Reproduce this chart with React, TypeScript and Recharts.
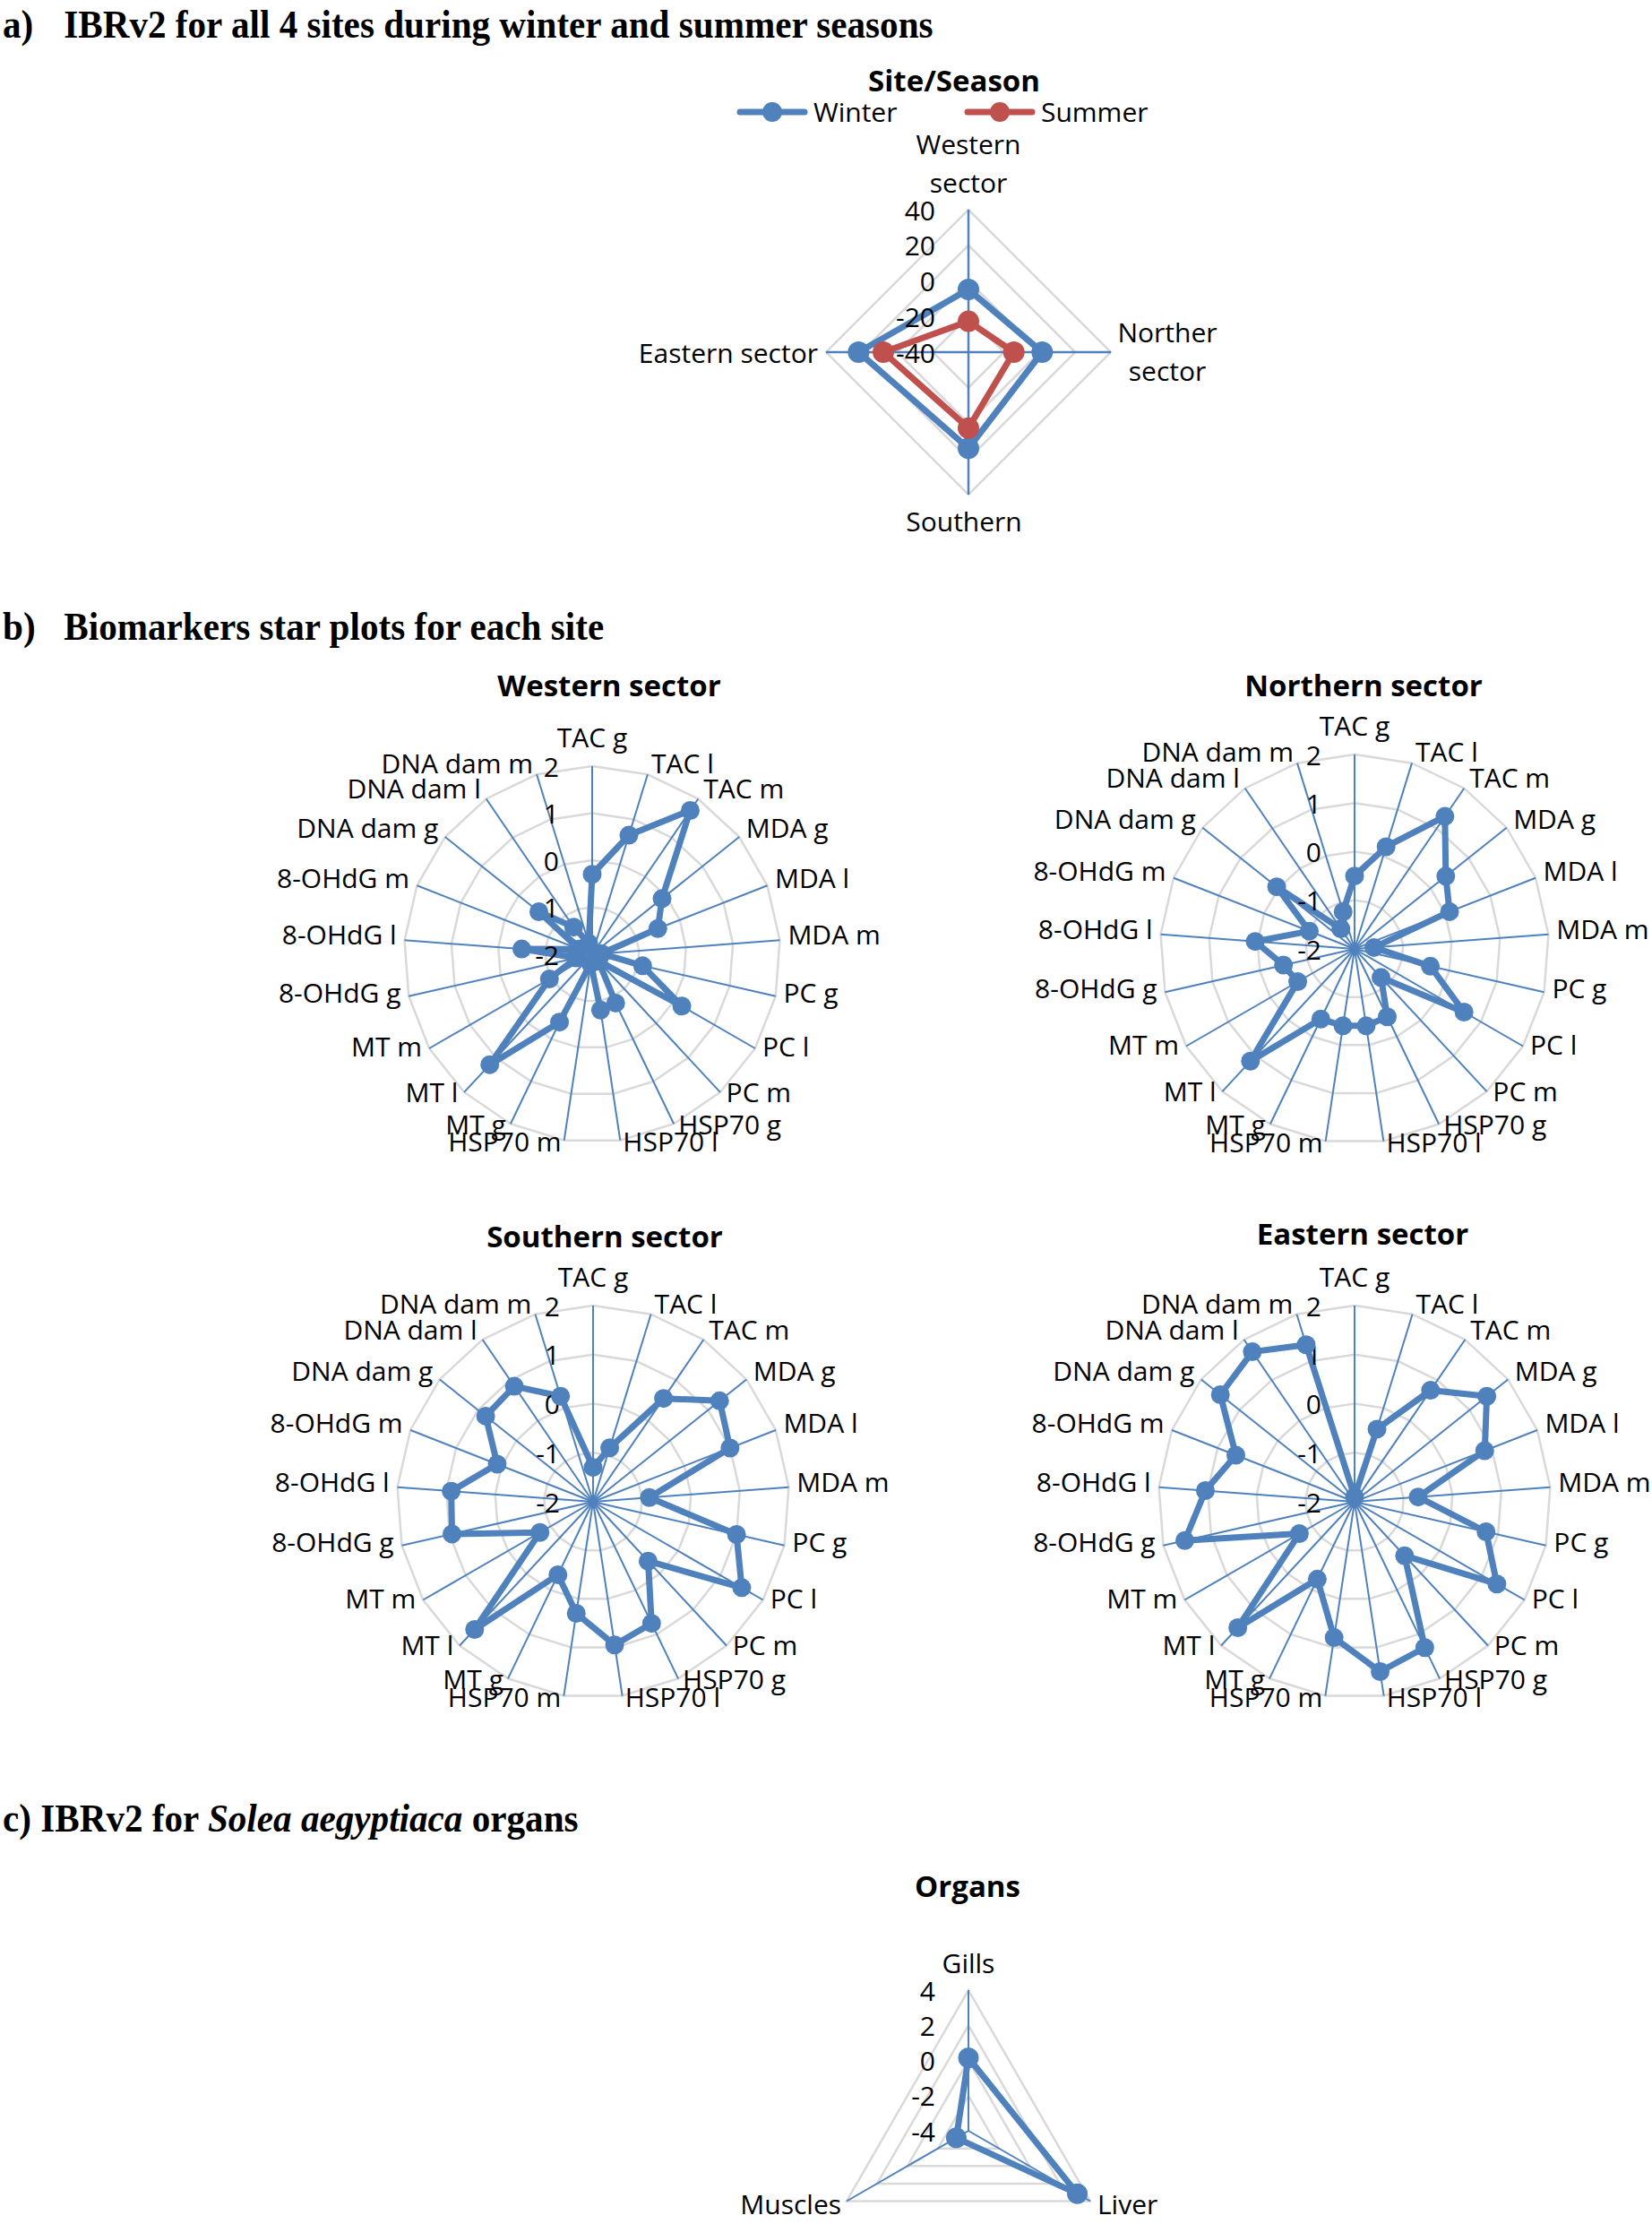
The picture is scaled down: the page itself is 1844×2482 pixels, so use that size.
import React from 'react';
import { RadarChart, Radar, PolarGrid, PolarAngleAxis, PolarRadiusAxis, Legend } from 'recharts';

const BLUE = '#4f81bd';
const RED = '#c0504d';
const GRID = '#d9d9d9';
const FONT = '"Open Sans", "Noto Sans", sans-serif';
const SERIF = '"Liberation Serif", "Times New Roman", serif';

// ---------- Panel a ----------
const sites = ['Western sector', 'Norther sector', 'Southern', 'Eastern sector'];
const seasons = ['Winter', 'Summer'];
const winterIBR = [-4.8, 1.4, 14, 21.7];
const summerIBR = [-22.7, -14.5, 2.6, 7.8];
const seasonDomain = [-40, 40];

// ---------- Panel b ----------
const biomarkers = [
  'TAC g', 'TAC l', 'TAC m', 'MDA g', 'MDA l', 'MDA m', 'PC g', 'PC l', 'PC m',
  'HSP70 g', 'HSP70 l', 'HSP70 m', 'MT g', 'MT l', 'MT m',
  '8-OHdG g', '8-OHdG l', '8-OHdG m', 'DNA dam g', 'DNA dam l', 'DNA dam m',
];
const westernValues = [-0.3, 0.65, 1.7, -0.1, -0.5, -1.8, -0.9, 0.2, -1.8, -0.85, -0.8, -1.8, -0.4, 1.2, -0.95, -1.65, -0.5, -1.7, -0.55, -1.3, -1.75];
const northernValues = [-0.5, 0.2, 1.3, 0.4, 0.1, -1.6, -0.4, 0.6, -1.2, -0.45, -0.4, -0.4, -0.4, 1.15, -0.65, -0.5, 0.05, -1.0, 0.05, -1.5, -1.2];
const southernValues = [-1.3, -0.85, 0.55, 1.3, 1.0, -0.85, 1.0, 1.5, -0.35, 0.75, 0.95, 0.3, -0.35, 1.55, -0.75, 0.95, 0.9, 0.1, 0.8, 0.85, 0.25];
const easternValues = [-1.9, -0.45, 0.75, 1.45, 0.85, -0.7, 0.75, 1.35, -0.5, 1.3, 1.5, 0.8, -0.25, 1.5, -0.7, 1.55, 1.05, 0.6, 1.5, 1.7, 1.35];
const starDomain = [-2, 2];

// ---------- Panel c ----------
const organs = ['Gills', 'Liver', 'Muscles'];
const organIBR = [0.15, 3.15, -3.2];
const organDomain = [-4, 4];

const labelStyle = { fontFamily: FONT, fontSize: 30, fill: '#000' } as const;

const radiusTick = (props: any) => {
  const { x, y, payload } = props;
  return (
    <text x={x - 37} y={y} textAnchor="end" dominantBaseline="central" {...labelStyle}>
      {payload.value}
    </text>
  );
};

const makeDot = (color: string, r: number) => (p: any) => (
  <circle key={`dot-${p.index}-${p.cx}-${p.cy}`} cx={p.cx} cy={p.cy} r={r} fill={color} fillOpacity={1} stroke="none" />
);

function BoldTitle({ text, x, y }: { text: string; x: number; y: number }) {
  return (
    <div
      style={{
        position: 'absolute', left: x - 300, top: y - 22, width: 600, textAlign: 'center',
        fontFamily: FONT, fontWeight: 700, fontSize: 33, lineHeight: '44px', color: '#000',
      }}
    >
      {text}
    </div>
  );
}

function StarPlot(props: {
  title: string; values: number[]; left: number; top: number;
  cx: number; cy: number; R: number; titleX: number; titleY: number;
}) {
  const { title, values, left, top, cx, cy, R, titleX, titleY } = props;
  const data = biomarkers.map((b, i) => ({ marker: b, value: values[i] }));
  const W = 860;
  const H = 650;
  const ccx = cx - left;
  const ccy = cy - top;
  const n = biomarkers.length;
  const angleTick = (p: any) => {
    const { index, payload } = p;
    const th = (index * 2 * Math.PI) / n;
    const s = Math.sin(th);
    const c = Math.cos(th);
    const xe = ccx + R * s;
    const ye = ccy - R * c;
    let x = xe;
    let y = ye - 33;
    let anchor: 'start' | 'middle' | 'end' = 'middle';
    if (index !== 0) {
      const gap = 2 + 7 * Math.abs(s);
      anchor = s > 0 ? 'start' : 'end';
      x = s > 0 ? xe + gap : xe - gap;
      y = ye - 6 - 7 * c;
    }
    return (
      <text x={x} y={y} textAnchor={anchor} dominantBaseline="central" {...labelStyle}>
        {payload.value}
      </text>
    );
  };
  return (
    <>
      <BoldTitle text={title} x={titleX} y={titleY} />
      <div style={{ position: 'absolute', left, top }}>
        <RadarChart width={W} height={H} data={data} cx={ccx} cy={ccy} outerRadius={R} margin={{ top: 0, right: 0, bottom: 0, left: 0 }}>
          <PolarGrid gridType="polygon" radialLines={false} stroke={GRID} strokeWidth={2.5} />
          <PolarGrid gridType="polygon" polarRadius={[]} stroke={BLUE} strokeWidth={2} />
          <PolarAngleAxis dataKey="marker" tick={angleTick} tickLine={false} axisLine={false} />
          <PolarRadiusAxis angle={90} domain={starDomain} tickCount={5} axisLine={false} tick={radiusTick} />
          <Radar
            dataKey="value"
            stroke={BLUE}
            strokeWidth={7}
            strokeLinejoin="round"
            fill="none"
            fillOpacity={0}
            dot={makeDot(BLUE, 10.5)}
            isAnimationActive={false}
          />
        </RadarChart>
      </div>
    </>
  );
}

function SeasonPanel() {
  const left = 600;
  const top = 60;
  const cx = 1081 - left;
  const cy = 393 - top;
  const R = 159;
  const data = sites.map((s, i) => ({ site: s, Winter: winterIBR[i], Summer: summerIBR[i] }));
  const siteTick = (p: any) => {
    const { index, payload } = p;
    const words = String(payload.value).split(' ');
    if (index === 0) {
      return (
        <g>
          <text x={cx} y={cy - R - 74} textAnchor="middle" dominantBaseline="central" {...labelStyle}>{words[0]}</text>
          <text x={cx} y={cy - R - 31} textAnchor="middle" dominantBaseline="central" {...labelStyle}>{words.slice(1).join(' ')}</text>
        </g>
      );
    }
    if (index === 1) {
      return (
        <g>
          <text x={cx + 222} y={cy - 23} textAnchor="middle" dominantBaseline="central" {...labelStyle}>{words[0]}</text>
          <text x={cx + 222} y={cy + 20} textAnchor="middle" dominantBaseline="central" {...labelStyle}>{words.slice(1).join(' ')}</text>
        </g>
      );
    }
    if (index === 2) {
      return <text x={cx - 5} y={cy + 188} textAnchor="middle" dominantBaseline="central" {...labelStyle}>{payload.value}</text>;
    }
    return <text x={cx - 168} y={cy} textAnchor="end" dominantBaseline="central" {...labelStyle}>{payload.value}</text>;
  };
  const legendContent = (lp: any) => {
    const payload = [...(lp.payload || [])].sort(
      (a: any, b: any) => seasons.indexOf(a.value) - seasons.indexOf(b.value),
    );
    return (
      <div style={{ position: 'relative', width: 520, height: 40 }}>
        {payload.map((e: any, i: number) => (
          <div key={i} style={{ position: 'absolute', left: i * 254, top: 0, height: 40, display: 'flex', alignItems: 'center' }}>
            <svg width={80} height={40} style={{ display: 'block' }}>
              <line x1={4} y1={20} x2={76} y2={20} stroke={e.color} strokeWidth={7} strokeLinecap="round" />
              <circle cx={40} cy={20} r={11} fill={e.color} />
            </svg>
            <span style={{ marginLeft: 6, fontFamily: FONT, fontSize: 30, color: '#000', lineHeight: '40px' }}>{e.value}</span>
          </div>
        ))}
      </div>
    );
  };
  return (
    <>
      <BoldTitle text="Site/Season" x={1065} y={90} />
      <div style={{ position: 'absolute', left, top }}>
        <RadarChart width={900} height={580} data={data} cx={cx} cy={cy} outerRadius={R} margin={{ top: 0, right: 0, bottom: 0, left: 0 }}>
          <PolarGrid gridType="polygon" radialLines={false} stroke={GRID} strokeWidth={2.5} />
          <PolarGrid gridType="polygon" polarRadius={[]} stroke={BLUE} strokeWidth={2.5} />
          <PolarAngleAxis dataKey="site" tick={siteTick} tickLine={false} axisLine={false} />
          <PolarRadiusAxis angle={90} domain={seasonDomain} tickCount={5} axisLine={false} tick={radiusTick} />
          <Radar name="Winter" dataKey="Winter" stroke={BLUE} strokeWidth={7} strokeLinejoin="round" fill="none" fillOpacity={0}
            dot={makeDot(BLUE, 12)} isAnimationActive={false} />
          <Radar name="Summer" dataKey="Summer" stroke={RED} strokeWidth={7} strokeLinejoin="round" fill="none" fillOpacity={0}
            dot={makeDot(RED, 12)} isAnimationActive={false} />
          <Legend
            layout="horizontal"
            verticalAlign="middle"
            align="center"
            content={legendContent}
            wrapperStyle={{ position: 'absolute', left: 826 - left - 4, top: 125 - top - 20, width: 520, height: 40 }}
          />
        </RadarChart>
      </div>
    </>
  );
}

function OrganPanel() {
  const left = 700;
  const top = 2140;
  const cx = 1081 - left;
  const cy = 2378 - top;
  const R = 157;
  const data = organs.map((o, i) => ({ organ: o, value: organIBR[i] }));
  const organTick = (p: any) => {
    const { index, payload } = p;
    if (index === 0) {
      return <text x={cx} y={cy - R - 31} textAnchor="middle" dominantBaseline="central" {...labelStyle}>{payload.value}</text>;
    }
    const th = (index * 2 * Math.PI) / organs.length;
    const vx = cx + R * Math.sin(th);
    const vy = cy - R * Math.cos(th);
    if (index === 1) {
      return <text x={vx + 8} y={vy + 3} textAnchor="start" dominantBaseline="central" {...labelStyle}>{payload.value}</text>;
    }
    return <text x={vx - 6} y={vy + 3} textAnchor="end" dominantBaseline="central" {...labelStyle}>{payload.value}</text>;
  };
  return (
    <>
      <BoldTitle text="Organs" x={1080} y={2105} />
      <div style={{ position: 'absolute', left, top }}>
        <RadarChart width={760} height={342} data={data} cx={cx} cy={cy} outerRadius={R} margin={{ top: 0, right: 0, bottom: 0, left: 0 }}>
          <PolarGrid gridType="polygon" radialLines={false} stroke={GRID} strokeWidth={2.5} />
          <PolarGrid gridType="polygon" polarRadius={[]} stroke={BLUE} strokeWidth={2} />
          <PolarAngleAxis dataKey="organ" tick={organTick} tickLine={false} axisLine={false} />
          <PolarRadiusAxis angle={90} domain={organDomain} tickCount={5} axisLine={false} tick={radiusTick} />
          <Radar dataKey="value" stroke={BLUE} strokeWidth={7} strokeLinejoin="round" fill="none" fillOpacity={0}
            dot={makeDot(BLUE, 11.5)} isAnimationActive={false} />
        </RadarChart>
      </div>
    </>
  );
}

const sectionStyle = {
  position: 'absolute', left: 3, fontFamily: SERIF, fontWeight: 700, fontSize: 44,
  lineHeight: '44px', color: '#000', whiteSpace: 'nowrap',
  transform: 'scaleX(0.935)', transformOrigin: '0 0',
} as const;

export default function App() {
  return (
    <div style={{ position: 'absolute', left: 0, top: 0, width: 1844, height: 2482, background: '#fff', overflow: 'hidden' }}>
      <div style={{ ...sectionStyle, top: 6 }}>
        <span style={{ display: 'inline-block', width: 73 }}>a)</span>IBRv2 for all 4 sites during winter and summer seasons
      </div>
      <SeasonPanel />

      <div style={{ ...sectionStyle, top: 678 }}>
        <span style={{ display: 'inline-block', width: 73 }}>b)</span>Biomarkers star plots for each site
      </div>
      <StarPlot title="Western sector" values={westernValues} left={240} top={780} cx={661} cy={1065} R={210} titleX={680} titleY={765} />
      <StarPlot title="Northern sector" values={northernValues} left={1090} top={780} cx={1512} cy={1059} R={217} titleX={1522} titleY={765} />
      <StarPlot title="Southern sector" values={southernValues} left={240} top={1395} cx={662} cy={1676} R={219} titleX={675} titleY={1380} />
      <StarPlot title="Eastern sector" values={easternValues} left={1090} top={1395} cx={1512} cy={1676} R={219} titleX={1521} titleY={1377} />

      <div style={{ ...sectionStyle, top: 2008 }}>
        c) IBRv2 for <i>Solea aegyptiaca</i> organs
      </div>
      <OrganPanel />
    </div>
  );
}
